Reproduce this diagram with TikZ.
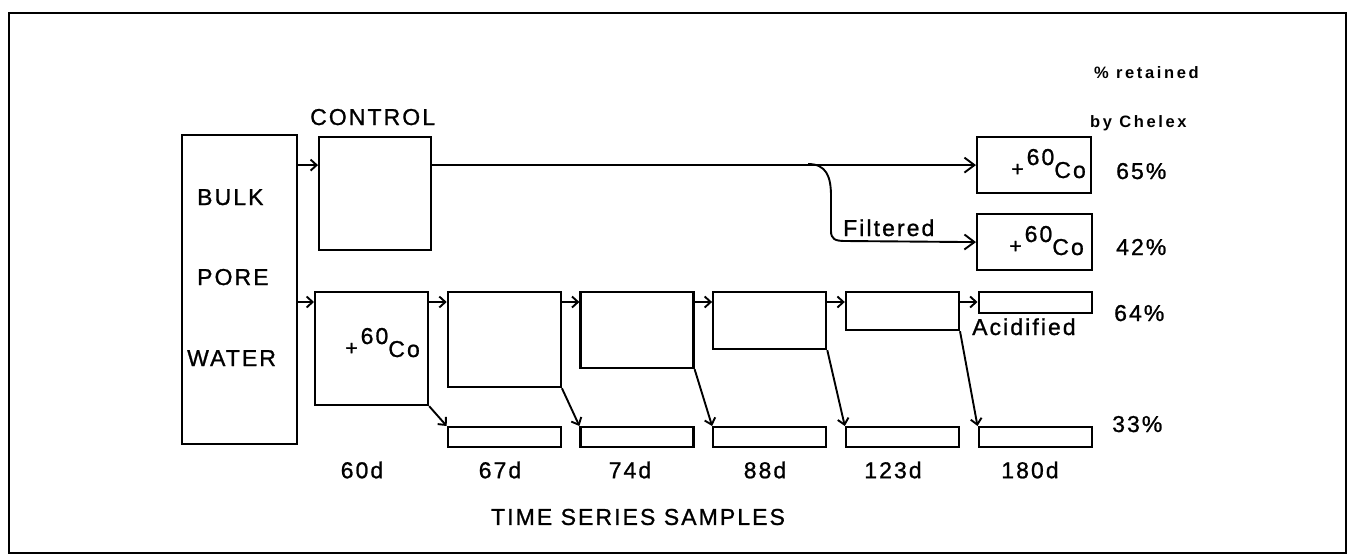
\documentclass[tikz,border=0pt]{standalone}
\usepackage{fontspec}
\setmainfont{Liberation Sans}[LetterSpace=9, FakeBold=1]
\newfontfamily\chelexfont{Liberation Sans}[LetterSpace=16]
\usepackage{tikz}
\usetikzlibrary{arrows.meta,positioning}

\newcommand{\cosixty}{\raisebox{2pt}{\fontsize{21}{21}\selectfont+}\hspace{3pt}\raisebox{13pt}{60}Co}

\begin{document}
\begin{tikzpicture}[x=1pt, y=-1pt,
  node distance=17.5pt,
  every node/.style={font=\fontsize{23}{23}\selectfont, inner sep=0pt},
  sbox/.style={draw=black, line width=2.2pt, minimum width=113pt, anchor=north west},
  pbox/.style={sbox, minimum height=20pt},
  small/.style={font=\chelexfont\bfseries\fontsize{16.5}{16.5}\selectfont},
  arr/.style={-{Straight Barb[length=6pt, width=11pt]}, line width=1.9pt},
  bigarr/.style={-{Straight Barb[length=10pt, width=15pt]}, line width=1.9pt}
]
  \useasboundingbox (0,0) rectangle (1353,555);
  \draw[line width=2.4pt] (9,13) rectangle (1346,553);

  % source and control
  \node[sbox, minimum width=115pt, minimum height=309pt] (bulk) at (181,134) {};
  \node[anchor=base west] (tbulk)  at (197,205) {BULK};
  \node[anchor=base west] (tpore)  at (197,285) {PORE};
  \node[anchor=base west] (twater) at (187,366) {WATER};
  \node[sbox, minimum width=112pt, minimum height=113pt] (ctrl) at (318,136) {};
  \node[anchor=base west] (tctrl) at (310,125) {CONTROL};

  % chelex tests
  \node[sbox, minimum width=114pt, minimum height=56pt] (c65) at (976,136) {};
  \node[sbox, minimum width=115pt, minimum height=56pt] (c42) at (976,213) {};
  \node[anchor=base east] (co65) at (1086,178) {\cosixty};
  \node[anchor=base east] (co42) at (1084,255) {\cosixty};
  \node[small, anchor=base west] (hret) at (1094,78) {\% retained};
  \node[small, anchor=base west] (hche) at (1090,127) {by Chelex};
  \node[anchor=base west] (r65) at (1116,179) {65\%};
  \node[anchor=base west] (r42) at (1116,255) {42\%};
  \node[anchor=base west] (r64) at (1114,321) {64\%};
  \node[anchor=base west] (r33) at (1112,432) {33\%};

  % time series
  \node[sbox, minimum height=113pt] (s60) at (314,291) {};
  \node[sbox, minimum height=95pt, right=of s60.north east, anchor=north west] (s67) {};
  \node[sbox, minimum height=76pt, right=of s67.north east, anchor=north west] (s74) {};
  \node[sbox, minimum height=57pt, right=of s74.north east, anchor=north west] (s88) {};
  \node[sbox, minimum height=38pt, right=of s88.north east, anchor=north west] (s123) {};
  \node[sbox, minimum height=21pt, right=of s123.north east, anchor=north west] (sacid) {};
  \node[anchor=base east] (co60) at (420,357) {\cosixty};
  \node[anchor=base west] (tacid) at (972,335) {Acidified};

  \coordinate (pbase) at (0,426);
  \node[pbox] (p67)  at (s67.north west |- pbase) {};
  \node[pbox] (p74)  at (s74.north west |- pbase) {};
  \node[pbox] (p88)  at (s88.north west |- pbase) {};
  \node[pbox] (p123) at (s123.north west |- pbase) {};
  \node[pbox] (p180) at (sacid.north west |- pbase) {};

  \node (d60)  at (362,470) {60d};
  \node (d67)  at (500,470) {67d};
  \node (d74)  at (630,470) {74d};
  \node (d88)  at (765,470) {88d};
  \node (d123) at (893,470) {123d};
  \node (d180) at (1030,470) {180d};
  \node (tts) at (638,517) {TIME SERIES SAMPLES};

  % connectors
  \draw[arr] (bulk.east |- c65.west) -- (ctrl.west |- c65.west);
  \draw[bigarr] (ctrl.east |- c65.west) -- (c65.west);
  \coordinate (br) at (808,164);
  \draw[bigarr] (br) .. controls (826,164) and (831,176) .. (831,196) -- (831,231)
    .. controls (831,239) and (835,241) .. (845,241) -- (c42.west);
  \node[anchor=base west] (tfil) at (843,236) {Filtered};

  \coordinate (rowy) at (0,302);
  \draw[arr] (bulk.east |- rowy) -- (s60.west |- rowy);
  \draw[arr] (s60.east |- rowy) -- (s67.west |- rowy);
  \draw[arr] (s67.east |- rowy) -- (s74.west |- rowy);
  \draw[arr] (s74.east |- rowy) -- (s88.west |- rowy);
  \draw[arr] (s88.east |- rowy) -- (s123.west |- rowy);
  \draw[arr] (s123.east |- rowy) -- (sacid.west |- rowy);

  \draw[arr] (s60.south east) -- (p67.north west);
  \draw[arr] (s67.south east) -- (p74.north west);
  \draw[arr] (s74.south east) -- (p88.north west);
  \draw[arr] (s88.south east) -- (p123.north west);
  \draw[arr] (s123.south east) -- (p180.north west);
\end{tikzpicture}
\end{document}
